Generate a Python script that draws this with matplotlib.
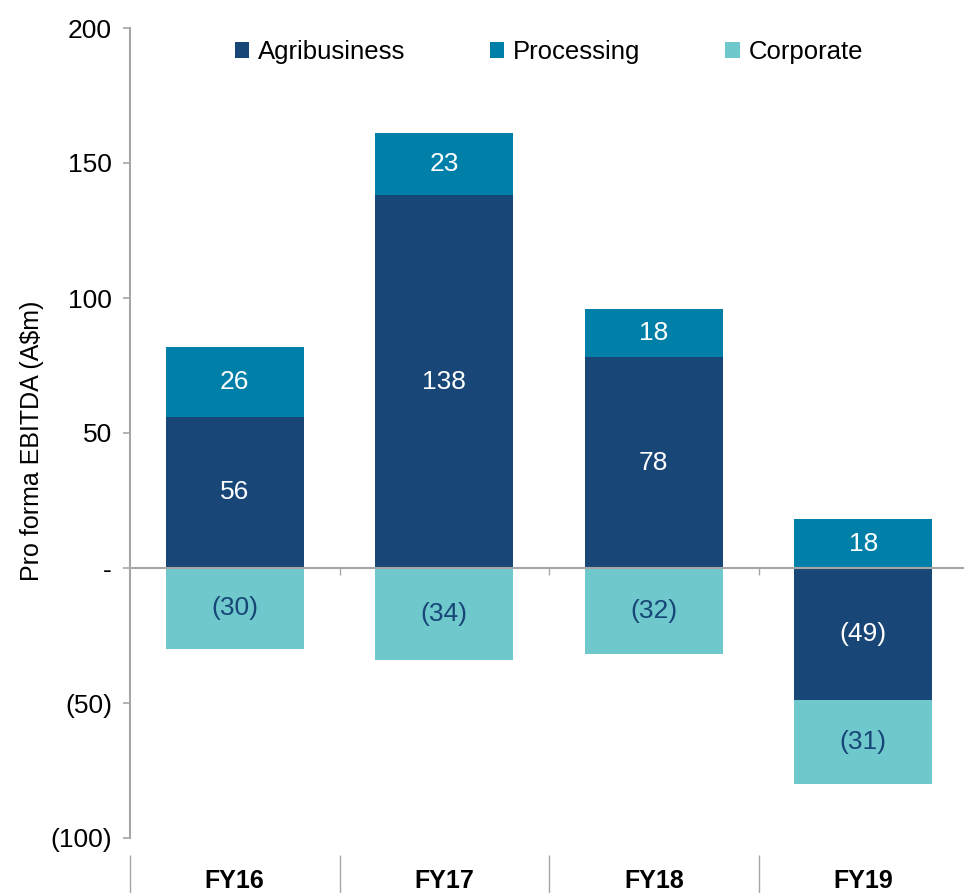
import numpy as np
import matplotlib.pyplot as plt

plt.rcParams['font.family'] = ['Liberation Sans', 'DejaVu Sans']

years = ['FY16', 'FY17', 'FY18', 'FY19']
agribusiness = [56, 138, 78, -49]
processing = [26, 23, 18, 18]
corporate = [-30, -34, -32, -31]

series = [('Agribusiness', agribusiness, '#174677', 'white'),
          ('Processing', processing, '#0080a8', 'white'),
          ('Corporate', corporate, '#6fc9cc', '#174677')]

fig = plt.figure(figsize=(9.64, 8.93), dpi=100)
ax = fig.add_axes([130 / 964, 1 - 838 / 893, 838 / 964, 810 / 893])

x = np.arange(len(years))
pos_base = np.zeros(len(years))
neg_base = np.zeros(len(years))
for name, vals, color, tcolor in series:
    vals = np.array(vals, dtype=float)
    bottom = np.where(vals >= 0, pos_base, neg_base)
    ax.bar(x, vals, 0.66, bottom=bottom, color=color, label=name, zorder=2)
    for xi, b, v in zip(x, bottom, vals):
        txt = f'{v:.0f}' if v >= 0 else f'({-v:.0f})'
        ax.text(xi, b + v / 2, txt, ha='center', va='center',
                color=tcolor, fontsize=19, zorder=3)
    pos_base = pos_base + np.where(vals >= 0, vals, 0)
    neg_base = neg_base + np.where(vals < 0, vals, 0)

grey = '#a6a6a6'
ax.set_xlim(-0.5, 3.5)
ax.set_ylim(-100, 200)
ax.axhline(0, color=grey, lw=1.5, zorder=4)
ax.vlines([0.5, 1.5, 2.5], 0, -2.6, color=grey, lw=1, zorder=4)

ax.set_yticks([-100, -50, 0, 50, 100, 150, 200])
ax.set_yticklabels(['(100)', '(50)', '-', '50', '100', '150', '200'], fontsize=19)
ax.tick_params(axis='y', length=5, color=grey, width=1.2, pad=8)
ax.set_ylabel('Pro forma EBITDA (A$m)', fontsize=18)
ax.yaxis.set_label_coords(-0.103, 0.49)

for s in ['top', 'right', 'bottom']:
    ax.spines[s].set_visible(False)
ax.spines['left'].set_color(grey)
ax.spines['left'].set_linewidth(1.5)

ax.set_xticks(x)
ax.set_xticklabels(years, fontsize=18, fontweight='bold')
ax.tick_params(axis='x', length=0, pad=22)
ax.vlines([-0.5, 0.5, 1.5, 2.5], -0.021, -0.08, color=grey, lw=1,
          transform=ax.get_xaxis_transform(), clip_on=False)

ax.legend(loc='upper center', bbox_to_anchor=(0.5, 0.998), ncol=3, frameon=False,
          fontsize=18.5, handlelength=0.55, handleheight=0.55, handletextpad=0.35,
          columnspacing=3.3, borderaxespad=0.0)

fig.savefig('out.png', dpi=100)
